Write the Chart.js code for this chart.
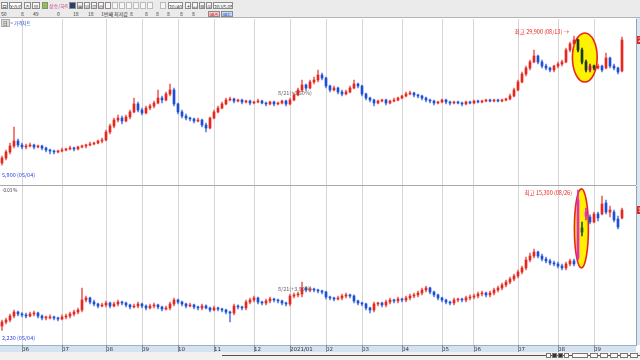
<!DOCTYPE html>
<html><head><meta charset="utf-8">
<script src="https://cdn.jsdelivr.net/npm/chart.js@4.4.1/dist/chart.umd.min.js"></script>
<style>
html,body{margin:0;padding:0;width:640px;height:360px;overflow:hidden;background:#fff;font-family:"Noto Sans CJK KR","DejaVu Sans",sans-serif;}
#tb{position:absolute;left:0;top:0;width:640px;height:18px;background:#ebebeb;border-bottom:1px solid #b4b4b4;box-sizing:border-box;}
.b{position:absolute;top:2px;height:7px;border:1px solid #8a8a8a;background:#f6f6f6;font-size:5px;line-height:7px;color:#333;text-align:center;box-sizing:border-box;overflow:hidden;white-space:nowrap;}
.t{position:absolute;top:11px;height:6px;font-size:5px;line-height:6px;color:#333;white-space:nowrap;}
#axR{position:absolute;left:636px;top:18px;width:4px;height:327px;background:#dbe6f3;}
#c1{position:absolute;left:0;top:19px;}
#c2{position:absolute;left:0;top:186px;}
#sep{position:absolute;left:0;top:185px;width:636px;height:1px;background:#a9a9a9;}
#foot{position:absolute;left:0;top:352px;width:640px;height:8px;background:#f1f1f1;}
#scr{position:absolute;left:222px;top:355px;width:418px;height:1px;background:#555;}
.lbl{position:absolute;font-size:4.5px;line-height:6px;white-space:nowrap;}
.ic{position:absolute;top:353px;height:5px;border:1px solid #777;background:#fafafa;box-sizing:border-box;}
</style></head>
<body>
<div id="tb">
  <div class="b" style="left:1px;width:7px">日</div>
  <div class="b" style="left:9px;width:13px;background:#fff">X:0/0</div>
  <div class="b" style="left:24px;width:7px">주</div>
  <div class="b" style="left:32px;width:8px">분</div>
  <div class="b" style="left:42px;width:6px;background:#8cc63f"></div>
  <div class="b" style="left:49px;width:19px;border:none;background:none;color:#d0308a">상승/하락</div>
  <div class="b" style="left:69px;width:7px;background:#2c3e6a"></div>
  <div class="b" style="left:77px;width:6px">⊞</div>
  <div class="b" style="left:84px;width:6px">▤</div>
  <div class="b" style="left:91px;width:6px">▥</div>
  <div class="b" style="left:98px;width:6px">⊡</div>
  <div class="b" style="left:105px;width:6px"></div>
  <div class="b" style="left:112px;width:6px;border-color:#bbb"></div>
  <div class="b" style="left:119px;width:6px;border-color:#bbb"></div>
  <div class="b" style="left:126px;width:6px;border-color:#bbb"></div>
  <div class="b" style="left:133px;width:6px;border-color:#bbb"></div>
  <div class="b" style="left:140px;width:6px;border-color:#bbb"></div>
  <div class="b" style="left:147px;width:6px;border-color:#bbb"></div>
  <div class="b" style="left:160px;width:6px;border-color:#bbb"></div>
  <div class="b" style="left:168px;width:15px;background:#fff">20/400</div>
  <div class="b" style="left:185px;width:6px">↕</div>
  <div class="b" style="left:192px;width:6px">↔</div>
  <div class="b" style="left:199px;width:6px">▦</div>
  <div class="b" style="left:206px;width:6px">⊕</div>
  <div class="b" style="left:213px;width:20px">20 VS 05</div>
  <div class="t" style="left:1px">50</div>
  <div class="t" style="left:21px">8</div>
  <div class="t" style="left:33px">49</div>
  <div class="t" style="left:57px">0</div>
  <div class="t" style="left:73px">18</div>
  <div class="t" style="left:88px">18</div>
  <div class="t" style="left:101px">1번째 최저값</div>
  <div class="t" style="left:130px">8</div>
  <div class="t" style="left:145px">8</div>
  <div class="t" style="left:156px">8</div>
  <div class="t" style="left:167px">8</div>
  <div class="t" style="left:180px">8</div>
  <div class="t" style="left:192px">8</div>
  <div class="b" style="left:208px;top:11px;width:12px;height:6px;line-height:5px;background:#f4c8c8;color:#c00">매수</div>
  <div class="b" style="left:221px;top:11px;width:12px;height:6px;line-height:5px;background:#c8d8f4;color:#0040c0">매도</div>
</div>
<div id="axR"></div>
<canvas id="c1" width="680" height="166"></canvas>
<div id="sep"></div>
<canvas id="c2" width="680" height="166"></canvas>
<div class="lbl" style="left:1px;top:20px;"><span style="background:#ddd;color:#333;border:1px solid #aaa;padding:0 1px">日</span> = <span style="color:#1d3fd8">가격차트</span></div>
<div class="lbl" style="left:2px;top:187px;color:#333">-0.03 %</div>
<div id="foot"></div>
<div id="scr"></div>
<div class="ic" style="left:546px;width:5px"></div>
<div class="ic" style="left:552px;width:5px;background:#333"></div>
<div class="ic" style="left:558px;width:5px;background:#333"></div>
<div class="ic" style="left:564px;width:5px"></div>
<div class="ic" style="left:572px;width:16px"></div>
<div class="ic" style="left:590px;width:8px"></div>
<div class="ic" style="left:600px;width:8px"></div>
<div class="ic" style="left:610px;width:8px"></div>
<div class="ic" style="left:620px;width:8px"></div>
<div class="ic" style="left:630px;width:8px"></div>
<script>
// ---- categories: month tick labels and the candle slot where each month begins
const monthLabels = ['06','07','08','09','10','11','12','2021/01','02','03','04','05','06','07','08','09'];
const monthStart  = [5,15,26,35,44,53,63,72,81,90,100,110,118,129,139,148];
const slotCount = 159; // 156 candles + empty right margin

// ---- upper panel (price chart) OHLC
const topOpen = [6280,7210,8330,9440,10370,9630,9260,9440,9630,9260,
9440,9070,8700,8510,8330,8510,8700,8890,9070,8890,
9260,9440,9630,9820,10000,10370,10560,12050,13160,14280,
14650,14090,14840,15770,17260,16140,15580,16510,16880,17440,
18370,18000,19120,19860,17260,15770,15020,14650,14470,14090,
14280,13350,12790,14650,15770,16510,17260,18000,18190,17810,
18000,17630,17810,17440,17630,17810,17440,17260,17630,17260,
17440,17810,17260,18000,18930,19860,20790,20230,21350,21720,
22650,22090,20600,19860,20230,19490,19120,19490,20230,20980,
20600,19120,18370,18000,17440,17810,18000,17440,17810,18000,
18370,18740,19120,19300,18930,18740,18370,18000,17810,17440,
17630,18000,17630,17440,17630,17440,17260,17630,17440,17810,
17630,17810,18000,17810,18000,17810,18000,18190,18740,19860,
21350,22840,23950,25070,26180,25070,24320,23950,23580,24320,
24700,25070,27300,28420,29160,27300,25070,23580,24320,23950,
24320,23950,25810,24320,23950,23390];
const topHigh = [7580,8700,10000,12980,10750,10000,9820,10000,9820,9630,
9630,9260,8890,8700,8700,9070,9070,9440,9260,9440,
9630,9820,10190,10190,10560,10930,12420,13540,14650,15210,
15020,15210,16140,18370,17630,16510,16880,17260,17810,19860,
18740,19490,20980,20230,17440,16140,15400,14840,14650,14650,
14470,13720,14840,16140,16880,17630,18370,18560,18370,18190,
18190,18000,18000,17810,18190,18000,17630,17810,17810,17630,
18000,18000,18370,19300,20230,21720,20980,21720,22280,23580,
23020,22280,20790,20600,20420,19860,19860,20600,21720,21160,
20790,19300,18560,18190,18000,18190,18190,18000,18370,18560,
18930,19490,19670,19490,19120,18930,18560,18190,18000,17810,
18190,18190,17810,17810,17810,17630,17810,17810,18000,18000,
18000,18190,18190,18190,18190,18190,18370,19120,20230,21720,
23210,24320,25440,27300,26370,25440,24700,24140,24510,25070,
25440,27670,28790,29900,29350,27670,25440,24700,24510,24700,
24510,26740,26000,24700,24140,29720];
const topLow = [5900,6840,7960,9070,9260,8890,8890,9260,8890,9070,
8700,8330,7960,7960,8140,8330,8510,8700,8510,8700,
9070,9070,9440,9630,9820,10000,10370,11680,12790,13910,
13540,13910,14470,15580,15770,15210,15400,16140,16510,17260,
17440,17810,18740,16880,15400,14650,14280,14090,13720,13910,
12980,12050,12610,14470,15580,16330,17070,17810,17440,17630,
17260,17440,17070,17260,17440,17260,16880,17070,16880,17070,
17260,16880,17070,17810,18740,19490,19860,20050,20980,21350,
21720,20230,19490,19670,19120,18740,18930,19300,20050,20230,
18740,18000,17630,16880,17260,17630,17070,17260,17630,17810,
18190,18560,18930,18560,18370,18000,17630,17440,17070,17260,
17440,17260,17070,17260,17260,16880,17070,17260,17260,17440,
17440,17630,17630,17630,17630,17630,17810,18000,18560,19670,
21160,22460,23580,24880,24700,23950,23580,23210,23210,23950,
24320,24880,26930,28040,26930,24700,23210,23210,23580,23770,
23210,23770,23950,23580,22840,23210];
const topClose = [7210,8330,9440,10370,9630,9260,9440,9630,9260,9440,
9070,8700,8510,8330,8510,8700,8890,9070,8890,9260,
9440,9630,9820,10000,10370,10560,12050,13160,14280,14650,
14090,14840,15770,17260,16140,15580,16510,16880,17440,18370,
18000,19120,19860,17260,15770,15020,14650,14470,14090,14280,
13350,12790,14650,15770,16510,17260,18000,18190,17810,18000,
17630,17810,17440,17630,17810,17440,17260,17630,17260,17440,
17810,17260,18000,18930,19860,20790,20230,21350,21720,22650,
22090,20600,19860,20230,19490,19120,19490,20230,20980,20600,
19120,18370,18000,17440,17810,18000,17440,17810,18000,18370,
18740,19120,19300,18930,18740,18370,18000,17810,17440,17630,
18000,17630,17440,17630,17440,17260,17630,17440,17810,17630,
17810,18000,17810,18000,17810,18000,18190,18740,19860,21350,
22840,23950,25070,26180,25070,24320,23950,23580,24320,24700,
25070,27300,28420,29160,27300,25070,23580,24320,23950,24320,
23580,25810,24320,23950,23210,29160];

// ---- lower panel OHLC
const botOpen = [2650,3020,3210,3580,3950,3770,3680,3580,3770,3860,
3580,3400,3400,3490,3400,3300,3490,3580,3770,3950,
4140,5070,5260,4880,4700,4510,4610,4790,4510,4700,
4880,4790,4610,4420,4510,4700,4510,4330,4510,4610,
4420,4230,4330,4700,5070,4880,4700,4510,4610,4420,
4330,4510,4330,4140,4330,4230,4140,3950,3860,4510,
4420,4330,4880,5070,5260,4880,4790,4980,5160,5070,
4980,4790,4700,5440,5540,5630,6190,6000,6090,6000,
5910,5810,5350,5260,5160,5260,5440,5540,5440,4980,
4790,4700,4330,4140,4700,4790,4610,4880,5070,4980,
5160,5070,5260,5440,5540,5720,6000,6190,5810,5540,
5260,5070,4880,4790,5070,5160,5070,5260,5350,5440,
5630,5720,5540,5720,6000,6190,6470,6740,7020,7300,
7670,8050,8790,9160,9530,9160,8880,8700,8510,8420,
8230,8050,8420,8700,8980,11770,12880,12790,12320,13070,
13070,14090,13250,13250,12600,12700];
const botHigh = [3210,3400,3770,4140,4050,3900,3860,3950,4050,3950,
3680,3580,3680,3580,3490,3680,3770,3950,4140,4330,
6190,5440,5350,5070,4790,4790,4980,4880,4880,5070,
4980,4880,4700,4700,4880,4790,4610,4700,4790,4700,
4510,4510,4880,5260,5160,4980,4790,4790,4700,4510,
4700,4610,4420,4510,4420,4330,4230,4050,4700,4610,
4510,5070,5260,5440,5350,4980,5160,5350,5260,5160,
5070,4880,5630,5720,5810,6740,6280,6280,6190,6090,
6000,5910,5440,5350,5440,5630,5720,5630,5540,5070,
4880,4790,4420,4880,4880,4880,5070,5260,5160,5350,
5260,5440,5630,5720,5910,6190,6370,6280,5910,5630,
5350,5160,4980,5260,5260,5260,5440,5540,5630,5810,
5910,5810,5910,6190,6370,6650,6930,7210,7490,7860,
8230,9070,9440,9810,9620,9340,9070,8880,8700,8600,
8420,8600,8880,8880,15300,12320,13630,12980,13250,13250,
14740,14370,13810,13440,12880,13630];
const botLow = [2230,2840,3020,3400,3580,3490,3400,3490,3580,3400,
3210,3210,3300,3210,3120,3210,3300,3400,3580,3770,
3950,4880,4700,4510,4330,4420,4420,4330,4420,4510,
4610,4420,4230,4330,4330,4330,4140,4230,4330,4230,
4050,4140,4140,4510,4700,4510,4330,4420,4230,4140,
4140,4230,3950,4050,4050,3950,3770,3020,3680,4230,
4140,4140,4700,4880,4700,4610,4610,4790,4880,4790,
4610,4510,4510,5260,5350,5350,5810,5810,5810,5720,
5630,5160,5070,4980,5070,5070,5260,5260,4790,4610,
4510,4140,3860,3950,4510,4420,4420,4700,4790,4790,
4880,4880,5070,5260,5350,5540,5810,5630,5350,5070,
4880,4700,4610,4610,4880,4880,4880,5070,5160,5260,
5440,5350,5350,5540,5810,6000,6280,6560,6840,7120,
7490,7860,8600,8980,8980,8700,8510,8330,8230,8050,
7860,7860,8230,8230,8790,11020,12510,12140,12230,12420,
12980,13070,12790,12320,11670,12600];
const botClose = [3020,3210,3580,3950,3770,3680,3580,3770,3860,3580,
3400,3400,3490,3400,3300,3490,3580,3770,3950,4140,
5070,5260,4880,4700,4510,4610,4790,4510,4700,4880,
4790,4610,4420,4510,4700,4510,4330,4510,4610,4420,
4230,4330,4700,5070,4880,4700,4510,4610,4420,4330,
4510,4330,4140,4330,4230,4140,3950,3860,4510,4420,
4330,4880,5070,5260,4880,4790,4980,5160,5070,4980,
4790,4700,5440,5540,5630,6190,6000,6090,6000,5910,
5810,5350,5260,5160,5260,5440,5540,5440,4980,4790,
4700,4330,4140,4700,4790,4610,4880,5070,4980,5160,
5070,5260,5440,5540,5720,6000,6190,5810,5540,5260,
5070,4880,4790,5070,5160,5070,5260,5350,5440,5630,
5720,5540,5720,6000,6190,6470,6740,7020,7300,7670,
8050,8790,9160,9530,9160,8880,8700,8510,8420,8230,
8050,8420,8700,8420,14370,11390,13250,12320,13070,12700,
14000,13250,13440,12510,11860,13440];

// ---- styling
const UP = '#e8261e', DOWN = '#1c4fd6';
const UPW = '#ef6660', DOWNW = '#5a80e2';
const GRID = '#d6d6d6';
Chart.defaults.font.family = '"DejaVu Sans", sans-serif';

const labels = Array(slotCount).fill('');
monthStart.forEach((s, k) => { labels[s] = monthLabels[k]; });

const ellPlugin = {
  id: 'ell',
  beforeDatasetsDraw(chart, args, o) {
    if (!o || o.x0 === undefined) return;
    const xs = chart.scales.x, ys = chart.scales.y, ctx = chart.ctx;
    const x0 = xs.getPixelForValue(o.x0), x1 = xs.getPixelForValue(o.x1);
    const y0 = ys.getPixelForValue(o.v0), y1 = ys.getPixelForValue(o.v1);
    ctx.save();
    ctx.beginPath();
    ctx.ellipse((x0 + x1) / 2, (y0 + y1) / 2, Math.abs(x1 - x0) / 2, Math.abs(y1 - y0) / 2, 0, 0, Math.PI * 2);
    ctx.fillStyle = '#fff200';
    ctx.fill();
    ctx.lineWidth = 1.6;
    ctx.strokeStyle = '#e8261e';
    ctx.stroke();
    ctx.restore();
  }
};

const notesPlugin = {
  id: 'notes',
  beforeDraw(chart, args, o) {
    const ca = chart.chartArea, ctx = chart.ctx;
    if (o.strip) {
      ctx.save();
      ctx.fillStyle = '#d5e3f1';
      ctx.fillRect(0, ca.bottom, ca.right, chart.height - ca.bottom);
      ctx.fillStyle = '#9db0c4';
      ctx.fillRect(0, ca.bottom, ca.right, 1);
      ctx.restore();
    }
  },
  afterDatasetsDraw(chart, args, o) {
    const xs = chart.scales.x, ys = chart.scales.y, ctx = chart.ctx;
    (o.items || []).forEach(it => {
      const px = xs.getPixelForValue(it.i) + (it.dx || 0);
      const py = ys.getPixelForValue(it.v) + (it.dy || 0);
      ctx.save();
      ctx.font = '5.5px "Noto Sans CJK KR", "DejaVu Sans"';
      ctx.fillStyle = it.color;
      ctx.textAlign = it.align || 'left';
      ctx.textBaseline = 'middle';
      ctx.fillText(it.text, px, py);
      ctx.restore();
    });
  },
  afterDraw(chart, args, o) {
    const xs = chart.scales.x, ys = chart.scales.y, ctx = chart.ctx, ca = chart.chartArea;
    if (o.strip) {
      ctx.save();
      ctx.fillStyle = '#7f8fa0';
      xs.ticks.forEach((t, i) => {
        if (t.label) ctx.fillRect(Math.round(xs.getPixelForTick(i)), ca.bottom, 1, chart.height - ca.bottom);
      });
      ctx.restore();
    }
    if (o.last !== undefined) {
      const py = ys.getPixelForValue(o.last);
      ctx.save();
      ctx.fillStyle = '#e8261e';
      ctx.fillRect(ca.right + 1, py - 4, 43, 8);
      ctx.fillStyle = '#fff';
      ctx.font = '6px "DejaVu Sans"';
      ctx.textBaseline = 'middle';
      ctx.fillText(o.last.toLocaleString('en-US'), ca.right + 2, py);
      ctx.restore();
    }
  }
};

function candleChart(id, O, H, L, C, yMin, yMax, step, extra) {
  const body = O.map((o, i) => {
    const up = C[i] >= o;
    if (i >= extra.inFrom && i <= extra.inTo) return up ? extra.inUp : extra.inDown;
    return up ? UP : DOWN;
  });
  const wick = O.map((o, i) => {
    const up = C[i] >= o;
    if (i >= extra.inFrom && i <= extra.inTo) return up ? extra.inUp : extra.inDown;
    return up ? UPW : DOWNW;
  });
  return new Chart(document.getElementById(id), {
    type: 'bar',
    data: {
      labels,
      datasets: [
        { data: L.map((l, i) => [l, H[i]]), backgroundColor: wick, barThickness: 1, grouped: false, order: 1 },
        { data: O.map((o, i) => [o, C[i]]), backgroundColor: body, barThickness: 2, minBarLength: 1, grouped: false, order: 0 }
      ]
    },
    options: {
      responsive: false, animation: false,
      layout: { padding: 0 },
      plugins: {
        legend: { display: false }, tooltip: { enabled: false },
        ell: extra.ell,
        notes: { items: extra.items, last: C[C.length - 1], strip: extra.showX }
      },
      scales: {
        x: {
          grid: { offset: false, drawTicks: false, color: c => (c.tick && c.tick.label) ? GRID : 'rgba(0,0,0,0)' },
          border: { display: false },
          ticks: { display: extra.showX, autoSkip: false, maxRotation: 0, minRotation: 0, align: 'start', padding: 1, font: { size: 5.5 }, color: '#333' },
          afterFit: s => { s.height = extra.showX ? 7 : 0; s.paddingLeft = 0; s.paddingRight = 0; }
        },
        y: {
          position: 'right', min: yMin, max: yMax,
          grid: { display: false },
          border: { display: true, color: '#8fa3b8' },
          ticks: { stepSize: step, includeBounds: false, font: { size: 6 }, color: '#333', padding: 1,
                   callback: v => v.toLocaleString('en-US') },
          afterFit: s => { s.width = 44; s.paddingTop = 0; s.paddingBottom = 0; }
        }
      }
    },
    plugins: [ellPlugin, notesPlugin]
  });
}

candleChart('c1', topOpen, topHigh, topLow, topClose, 2190, 33066, 3500, {
  showX: false,
  inFrom: 144, inTo: 148, inUp: '#b0186e', inDown: '#173a12',
  ell: { x0: 142.6, x1: 148.8, v0: 30460, v1: 21350 },
  items: [
    { i: 143, v: 29900, dx: -5, dy: -4, text: '최고 29,900 (08/13) →', color: '#e8261e', align: 'right' },
    { i: 0, v: 5900, dx: 0, dy: 10, text: '5,900 (05/04)', color: '#2a3fe0', align: 'left' },
    { i: 69, v: 19300, dx: 0, dy: 0, text: '8/21(+3.50%)', color: '#666', align: 'left' }
  ]
});
candleChart('c2', botOpen, botHigh, botLow, botClose, 885, 15672, 1000, {
  showX: true,
  inFrom: 144, inTo: 146, inUp: '#e028d8', inDown: '#1f5a1f',
  ell: { x0: 143.1, x1: 146.6, v0: 15400, v1: 8050 },
  items: [
    { i: 144, v: 15300, dx: -6, dy: 3, text: '최고 15,300 (08/26)', color: '#e8261e', align: 'right' },
    { i: 0, v: 2230, dx: 0, dy: 7, text: '2,230 (05/04)', color: '#2a3fe0', align: 'left' },
    { i: 69, v: 6090, dx: 0, dy: 0, text: '8/21(+3.50%)', color: '#666', align: 'left' }
  ]
});
</script>
</body></html>
